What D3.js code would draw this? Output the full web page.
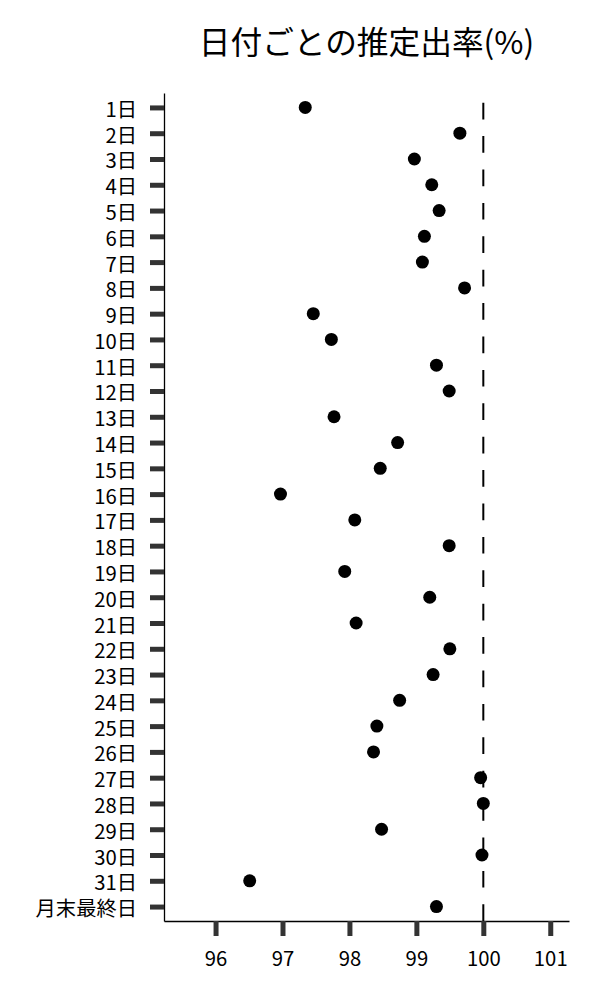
<!DOCTYPE html>
<html>
<head>
<meta charset="utf-8">
<script src="https://cdn.jsdelivr.net/npm/d3@7"></script>
<style>
  body { margin: 0; background: #fff; }
  text { font-family: "Noto Sans CJK JP", "Noto Sans", sans-serif; fill: #000; }
</style>
</head>
<body>
<svg id="chart" width="600" height="1000"></svg>
<script>
const title = "日付ごとの推定出率(%)";
const days = ["1日","2日","3日","4日","5日","6日","7日","8日","9日","10日",
  "11日","12日","13日","14日","15日","16日","17日","18日","19日","20日",
  "21日","22日","23日","24日","25日","26日","27日","28日","29日","30日",
  "31日","月末最終日"];
const rates = [97.34, 99.65, 98.97, 99.23, 99.34, 99.12, 99.09, 99.72, 97.46, 97.73,
  99.30, 99.49, 97.77, 98.72, 98.46, 96.97, 98.08, 99.49, 97.93, 99.20,
  98.10, 99.50, 99.25, 98.75, 98.41, 98.36, 99.96, 100.0, 98.48, 99.98,
  96.51, 99.30];
const xTicks = [96, 97, 98, 99, 100, 101];
const refValue = 100;

const svg = d3.select("#chart");
const plotL = 164, plotR = 569, plotT = 93, plotB = 921;

const x = d3.scaleLinear().domain([95.23, 101.28]).range([plotL, plotR]);
const y = d3.scalePoint().domain(days).range([plotT, plotB]).padding(0.56);

// title
svg.append("text")
  .attr("x", (plotL + plotR) / 2)
  .attr("y", 40)
  .attr("text-anchor", "middle")
  .attr("dominant-baseline", "central")
  .style("font-size", "31.7px")
  .text(title);

// y axis
const gy = svg.append("g").attr("transform", `translate(${plotL},0)`)
  .call(d3.axisLeft(y).tickSize(14).tickSizeOuter(0).tickPadding(13));
gy.attr("font-size", null).attr("font-family", null);
gy.select(".domain").attr("stroke", "#000").attr("stroke-width", 1.3);
gy.selectAll(".tick line").attr("stroke", "#333").attr("stroke-width", 5);
gy.selectAll(".tick text").attr("dy", null).attr("dominant-baseline", "central")
  .style("font-size", "20.3px");

// x axis
const gx = svg.append("g").attr("transform", `translate(0,${plotB})`)
  .call(d3.axisBottom(x).tickValues(xTicks).tickFormat(d3.format("d"))
    .tickSize(15).tickSizeOuter(0));
gx.attr("font-size", null).attr("font-family", null);
gx.select(".domain").attr("stroke", "#000").attr("stroke-width", 1.3);
gx.selectAll(".tick line").attr("stroke", "#333").attr("stroke-width", 5);
gx.selectAll(".tick text").attr("y", 36).attr("dy", null).attr("dominant-baseline", "central")
  .style("font-size", "20.3px");

// reference dashed line (drawn from bottom up)
svg.append("path")
  .attr("d", d3.line()([[x(refValue), plotB], [x(refValue), plotT]]))
  .attr("stroke", "#000")
  .attr("stroke-width", 2)
  .attr("stroke-dasharray", "16.7,16.7")
  .attr("fill", "none");

// points
svg.append("g").selectAll("circle")
  .data(days.map((d, i) => ({ day: d, v: rates[i] })))
  .join("circle")
  .attr("cx", d => x(d.v))
  .attr("cy", d => y(d.day))
  .attr("r", 6.5)
  .attr("fill", "#000");
</script>
</body>
</html>
